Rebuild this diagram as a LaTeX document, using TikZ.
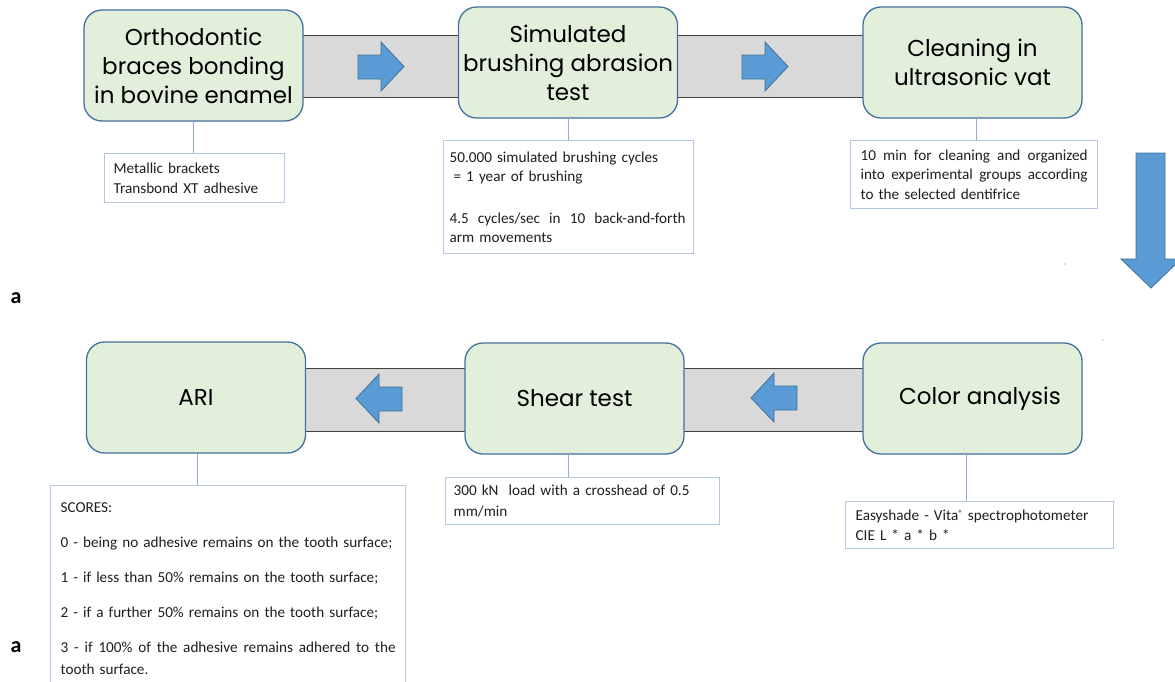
\documentclass[tikz,border=0pt]{standalone}
\usepackage{fontspec}
\setmainfont{Carlito}
\newfontfamily\titlefont{Poppins}
\definecolor{greenfill}{HTML}{E2EFDA}
\definecolor{boxblue}{HTML}{41719C}
\definecolor{bandgray}{HTML}{D9D9D9}
\definecolor{banddark}{HTML}{404040}
\definecolor{arrowfill}{HTML}{5B9BD5}
\definecolor{notebord}{HTML}{B4C7E7}
\definecolor{connblue}{HTML}{8FAADC}
\newcommand{\fullline}[2]{\makebox[#1][s]{\spaceskip=0.226em plus 1fil\relax #2}}
\begin{document}
\begin{tikzpicture}[x=1pt,y=-1pt,
  stepbox/.style={draw=boxblue, fill=greenfill, line width=1.3pt, rounded corners=18pt,
    minimum width=219pt, minimum height=111pt, inner sep=0pt, align=center,
    font=\titlefont\fontsize{23}{29}\selectfont, text=black},
  notebox/.style={draw=notebord, line width=1.2pt, fill=white, anchor=north west,
    align=left, inner ysep=0pt, font=\fontsize{15.2}{19.5}\selectfont, text=black!88},
  band/.style={fill=bandgray, draw=banddark, line width=1pt},
  flowarrow/.style={fill=arrowfill, draw=boxblue, line width=0.8pt},
  conn/.style={draw=connblue, line width=1pt},
  panel/.style={font=\bfseries\fontsize{22}{22}\selectfont, anchor=base}]
\useasboundingbox (0,0) rectangle (1175,681);

% bands
\path[band] (290,35) rectangle (875,97);
\path[band] (292,368) rectangle (876,431);

% arrows
\path[flowarrow] (358,55) -- (381,55) -- (381,42) -- (404,66.5) -- (381,91) -- (381,79) -- (358,79) -- cycle;
\path[flowarrow] (742,55) -- (765,55) -- (765,42) -- (788,66.5) -- (765,91) -- (765,79) -- (742,79) -- cycle;
\path[flowarrow] (402,387) -- (379,387) -- (379,374) -- (356,398.5) -- (379,423) -- (379,411) -- (402,411) -- cycle;
\path[flowarrow] (797,386) -- (774,386) -- (774,373) -- (751,398) -- (774,422) -- (774,410) -- (797,410) -- cycle;
\path[flowarrow] (1136,153) -- (1165,153) -- (1165,259) -- (1181,259) -- (1151,288) -- (1121,259) -- (1136,259) -- cycle;

% step boxes
\node[stepbox] (b1) at (193.5,65.5) {Orthodontic\\braces bonding\\in bovine enamel};
\node[stepbox] (b2) at (568,62.5) {Simulated\\brushing abrasion\\test};
\node[stepbox] (b3) at (972.5,62.5) {Cleaning in\\ultrasonic vat};
\node[stepbox] (b4) at (196,397.5) {ARI};
\node[stepbox] (b5) at (574.5,398.5) {Shear test};
\node[stepbox] (b6) at (972.5,398.5) {\hspace*{15pt}Color analysis};

% note boxes
\node[notebox, inner xsep=9pt, text width=162pt, minimum height=49pt] (t1) at (104,153)
  {Metallic brackets\\Transbond XT adhesive};
\node[notebox, inner xsep=6pt, text width=238pt, minimum height=113pt] (t2) at (443,140)
  {50.000 simulated brushing cycles\\
   \hspace*{4pt}=\ 1 year of brushing\\[22pt]
   \fullline{236pt}{4.5 cycles/sec in 10 back-and-forth}\\
   arm movements};
\node[notebox, inner xsep=10pt, text width=227pt, minimum height=68pt] (t3) at (850,140)
  {\fullline{227pt}{10 min for cleaning and organized}\\
   \fullline{227pt}{into experimental groups according}\\
   to the selected dentifrice};
\node[notebox, inner xsep=10pt, text width=335pt, inner ysep=12.5pt,
      font=\fontsize{15.2}{22}\selectfont] (t4) at (50,485)
  {\rule{0pt}{14pt}SCORES:\\[13pt]
   0 - being no adhesive remains on the tooth surface;\\[13pt]
   1 - if less than 50\% remains on the tooth surface;\\[13pt]
   2 - if a further 50\% remains on the tooth surface;\\[13pt]
   \fullline{335pt}{3 - if 100\% of the adhesive remains adhered to the}\\
   tooth surface.\rule[-14pt]{0pt}{14pt}};
\node[notebox, inner xsep=8pt, text width=258pt, minimum height=47pt,
      font=\fontsize{15.2}{21}\selectfont] (t5) at (445,477)
  {300 kN\ \ load with a crosshead of 0.5\\mm/min};
\node[notebox, inner xsep=10pt, text width=248pt, minimum height=47pt] (t6) at (845,501)
  {Easyshade - Vita\raisebox{4.5pt}{\fontsize{9}{9}\selectfont ®} spectrophotometer\\CIE L * a * b *};

% connectors
\draw[conn] (b1.south) -- (b1.south |- t1.north);
\draw[conn] (b2.south) -- (b2.south |- t2.north);
\draw[conn] ([xshift=3.5pt]b3.south) -- ([xshift=3.5pt]b3.south |- t3.north);
\draw[conn] ([xshift=1pt]b4.south) -- ([xshift=1pt]b4.south |- t4.north);
\draw[conn] ([xshift=-6.5pt]b5.south) -- ([xshift=-6.5pt]b5.south |- t5.north);
\draw[conn] ([xshift=-6.5pt]b6.south) -- ([xshift=-6.5pt]b6.south |- t6.north);

% panel labels
\node[panel] (la) at (16,303) {a};
\node[panel] (lb) at (16,652) {a};

% stray dots
\fill[black!50] (1065,264) circle (0.7);
\fill[black!50] (1103,340) circle (0.7);
\end{tikzpicture}
\end{document}
